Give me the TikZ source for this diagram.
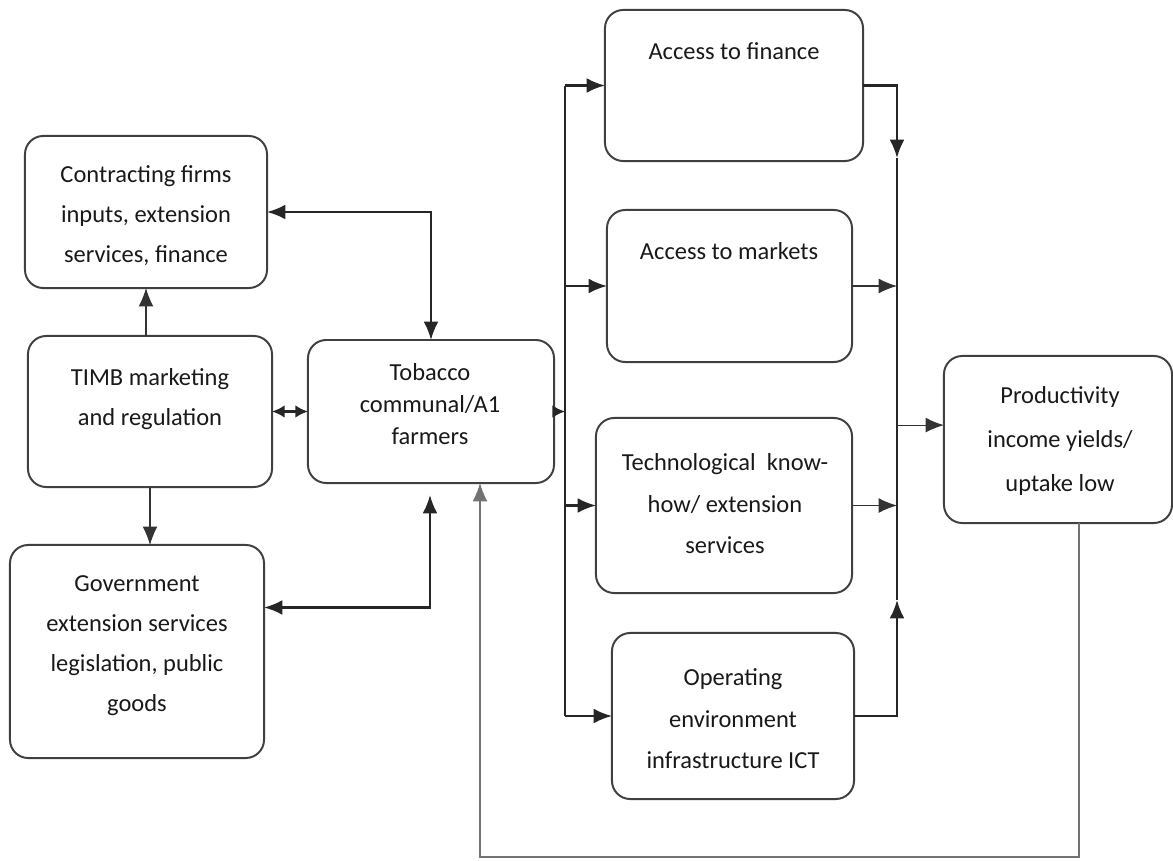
\documentclass[tikz,border=0pt]{standalone}
\usepackage{fontspec}
\setmainfont{Carlito}
\usetikzlibrary{arrows.meta}

\tikzset{
  tip/.tip={Latex[length=13pt,width=10.5pt]},
  smalltip/.tip={Latex[length=9pt,width=9pt]},
  box/.style={draw=black!75, line width=1.4pt, rounded corners=13pt, inner sep=0pt, outer sep=0pt},
  lbl/.style={align=center, text=black!90, font=\fontsize{17.4}{28.5}\selectfont},
  link/.style={draw=black!85, line width=1.5pt, -tip},
  thinlink/.style={draw=black!80, line width=0.8pt, -tip},
  bus/.style={draw=black!85, line width=1.5pt},
}

\begin{document}
\begin{tikzpicture}[x=0.025cm, y=-0.025cm]
\useasboundingbox (0,0) rectangle (1173,861);

% Left side boxes
\node[box, minimum width=6.05cm, minimum height=3.8cm] (contr) at (146,212) {};
\node[box, minimum width=6.1cm, minimum height=3.775cm] (timb) at (150,411.5) {};
\node[box, minimum width=6.35cm, minimum height=5.325cm] (gov) at (137,651.5) {};
\node[box, minimum width=6.15cm, minimum height=3.575cm] (tob) at (431,411.5) {};

% Right side boxes
\node[box, minimum width=6.45cm, minimum height=3.775cm] (fin) at (734,85.5) {};
\node[box, minimum width=6.125cm, minimum height=3.8cm] (mkt) at (729.5,286) {};
\node[box, minimum width=6.4cm, minimum height=4.375cm] (tech) at (724,505.5) {};
\node[box, minimum width=6.05cm, minimum height=4.15cm] (oper) at (733,716) {};
\node[box, minimum width=5.7cm, minimum height=4.175cm] (prod) at (1058,439.5) {};

% Box texts
\node[lbl] (contrtxt) at (146,216) {Contracting firms\\inputs, extension\\services, finance};
\node[lbl] (timbtxt) at (150,399) {TIMB marketing\\and regulation};
\node[lbl] (govtxt) at (137,646) {Government\\extension services\\legislation, public\\goods};
\node[lbl, font=\fontsize{17.4}{23}\selectfont] (tobtxt) at (430,404) {Tobacco\\communal/A1\\farmers};
\node[lbl] (fintxt) at (734,51) {Access to finance};
\node[lbl] (mkttxt) at (729,251) {Access to markets};
\node[lbl, font=\fontsize{17.4}{29.5}\selectfont] (techtxt) at (725,504) {Technological\ \ know-\\how/ extension\\services};
\node[lbl, font=\fontsize{17.4}{29.5}\selectfont] (opertxt) at (733,719) {Operating\\environment\\infrastructure ICT};
\node[lbl, font=\fontsize{17.4}{31}\selectfont] (prodtxt) at (1060,441) {Productivity\\income yields/\\uptake low};

% Junction points
\coordinate (busLtop) at (565,85.5);
\coordinate (busLbot) at (565,716);
\coordinate (finarr) at (897,158);
\coordinate (operarr) at (897,600);
\coordinate (govup) at (430,495);
\coordinate (fbR) at (1079,857);
\coordinate (fbL) at (480,857);

% Left side links
\draw[link, tip-tip] (contr.east) -| (tob.north);
\draw[thinlink] (contr.south |- timb.north) -- (contr.south);
\draw[link, smalltip-smalltip] (timb.east) -- (tob.west);
\draw[thinlink] (timb.south) -- (timb.south |- gov.north);
\draw[link, tip-tip] ([yshift=1.1cm]gov.east) -| (govup);

% Left bus
\draw[bus] (busLtop) -- (busLbot);
\draw[link, -smalltip] (tob.east) -- (tob.east -| busLtop);
\draw[link] (busLtop) -- (fin.west);
\draw[link] (mkt.west -| busLtop) -- (mkt.west);
\draw[link] (tech.west -| busLtop) -- (tech.west);
\draw[link] (busLbot) -- (oper.west);

% Right bus
\draw[link] (fin.east) -| (finarr);
\draw[bus] (finarr) -- (operarr);
\draw[thinlink] (mkt.east) -- (mkt.east -| finarr);
\draw[thinlink] (tech.east) -- (tech.east -| finarr);
\draw[link] (oper.east) -| (operarr);
\draw[thinlink] ([yshift=0.36cm]prod.west -| finarr) -- ([yshift=0.36cm]prod.west);

% Feedback loop
\draw[thinlink, draw=black!55] (prod.south -| fbR) -- (fbR) -- (fbL) -- (fbL |- tob.south);

\end{tikzpicture}
\end{document}
